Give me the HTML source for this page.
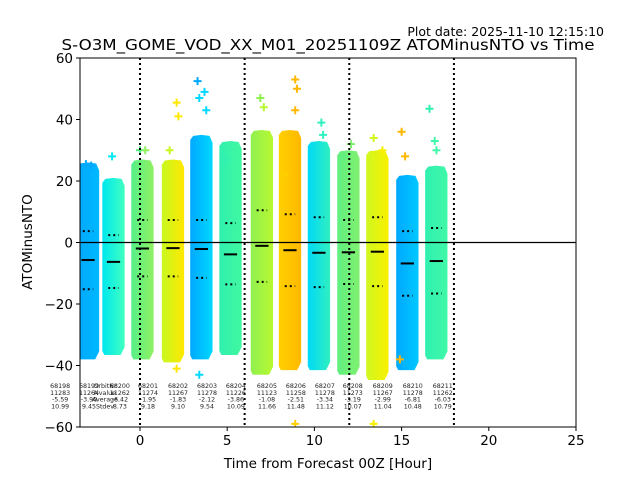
<!DOCTYPE html>
<html><head><meta charset="utf-8"><style>
body{margin:0;background:#fff}
svg text{font-family:"DejaVu Sans","Liberation Sans",sans-serif}
</style></head><body>
<svg id="chart" width="640" height="480" viewBox="0 0 640 480" xmlns="http://www.w3.org/2000/svg">
<rect width="640" height="480" fill="#fff"/>
<text x="604" y="36" font-size="12.5" text-anchor="end" fill="#000">Plot date: 2025-11-10 12:15:10</text>
<text x="328" y="50" font-size="15.5" text-anchor="middle" textLength="533" lengthAdjust="spacingAndGlyphs">S-O3M_GOME_VOD_XX_M01_20251109Z ATOMinusNTO vs Time</text>
<defs id="grads"></defs>
<g id="plot"></g>
<text x="328" y="468" font-size="13.5" text-anchor="middle">Time from Forecast 00Z [Hour]</text>
<text x="32" y="242" font-size="13.5" text-anchor="middle" transform="rotate(-90 32 242)">ATOMinusNTO</text>
</svg>
<script>
const colTime=[-2.98,-1.52,0.14,1.89,3.52,5.19,6.99,8.6,10.26,11.95,13.61,15.33,16.99];
const colTop=[26,21,27,27,35,33,36.6,36.6,33,30,30,22,25];
const colBottom=[-38,-36.6,-38,-39,-38,-36.6,-43,-41.5,-41.5,-43,-44.7,-41.5,-38];
const colMean=[-5.7,-6.3,-1.95,-1.83,-2.12,-3.86,-1.08,-2.51,-3.34,-3.19,-2.99,-6.81,-6.03];
const colUpper=[3.7,2.4,7.3,7.3,7.3,6.3,10.5,9.2,8.2,7.3,8.2,3.7,4.7];
const colLower=[-15.2,-14.8,-11,-11,-11.5,-13.6,-12.8,-14.2,-14.5,-13.5,-14.2,-17.3,-16.6];
const colLeft=['#00a8ff','#00e8f0','#55f08a','#c8f820','#00a8ff','#30f0b0','#90f050','#ffd000','#00d8f8','#60f080','#d0f820','#00a8ff','#30f0b0'];
const colRight=['#00b8ff','#40ffc0','#90f060','#ffe800','#00d8ff','#40f8a0','#b8f830','#ffb800','#30f0c0','#80f070','#f8f000','#00c8ff','#40f8a8'];
const outX=[-3.1,-2.8,-1.6,0.0,0.3,1.7,2.1,2.2,3.3,3.4,3.7,3.8,4.9,6.9,7.1,8.3,8.9,9.0,8.9,10.4,10.5,11.7,12.1,13.4,13.9,15.0,15.2,16.6,16.9,17.0,2.1,3.4,13.4,14.9,8.9];
const outY=[25.5,25,28,30,30,30,45.5,41,52.5,47,49,43,27,47,44,22,53,50,43,39,35,28,32,34,30,36,28,43.5,33,30,-41,-43,-59,-38,-59];
const outC=['#00a8ff','#00a8ff','#00e8f0','#55f08a','#90f060','#c8f820','#ffe800','#ffe800','#00a8ff','#00d8ff','#00d8ff','#00d8ff','#30f0b0','#90f050','#b8f830','#ffd000','#ffb800','#ffb800','#ffb800','#30f0c0','#30f0c0','#60f080','#80f070','#d0f820','#f8f000','#ffb800','#ffb800','#30f0b0','#40f8a8','#40f8a8','#ffe800','#00d8ff','#f8f000','#ffb800','#ffd000'];
const orbitNr=['68198','68199','68200','68201','68202','68203','68204','68205','68206','68207','68208','68209','68210','68211'];
const orbitN=['11283','11264','11262','11274','11267','11278','11226','11123','11258','11278','11273','11267','11278','11262'];
const orbitAvg=['-5.59','-3.90','-6.42','-1.95','-1.83','-2.12','-3.86','-1.08','-2.51','-3.34','-3.19','-2.99','-6.81','-6.03'];
const orbitStd=['10.99','9.45','8.73','9.18','9.10','9.54','10.09','11.66','11.48','11.12','10.07','11.04','10.48','10.79'];
const labelTime=[-4.58,-2.92,-1.15,0.46,2.18,3.84,5.5,7.28,8.94,10.6,12.2,13.92,15.64,17.36];
const xTicks=[0,5,10,15,20,25];
const yTicks=[-60,-40,-20,0,20,40,60];
const vLines=[0,6,12,18];

const X0=80,X1=576,Y0=58,Y1=427,XMIN=-3.44,XMAX=25,YMIN=-60,YMAX=60;
const xs=t=>X0+(t-XMIN)/(XMAX-XMIN)*(X1-X0);
const ys=v=>Y1-(v-YMIN)/(YMAX-YMIN)*(Y1-Y0);
const NS='http://www.w3.org/2000/svg';
const plot=document.getElementById('plot'),defs=document.getElementById('grads');
function mk(tag,attrs,parent){const e=document.createElementNS(NS,tag);for(const k in attrs)e.setAttribute(k,attrs[k]);(parent||plot).appendChild(e);return e;}
const clip=mk('clipPath',{id:'pc'},defs);mk('rect',{x:X0,y:Y0,width:X1-X0,height:Y1-Y0},clip);
const g=mk('g',{'clip-path':'url(#pc)'});


const HW=0.64;
colTime.forEach((t,i)=>{
  const lg=mk('linearGradient',{id:'g'+i,x1:0,x2:1,y1:0,y2:0},defs);
  mk('stop',{offset:0,'stop-color':colLeft[i]},lg);mk('stop',{offset:1,'stop-color':colRight[i]},lg);
  const l=xs(t-HW),r=xs(t+HW),tp=ys(colTop[i]),bt=ys(colBottom[i]);
  const pts=[[l,bt-4],[l+2,bt],[r-4,bt],[r,bt-8],[r,tp+8],[r-3,tp+1],[(l+r)/2,tp],[l+3,tp+1],[l,tp+5]].map(p=>p.join(',')).join(' ');
  const p=mk('polygon',{points:pts,fill:'url(#g'+i+')'},g);
  
  
  const m=mk('line',{x1:xs(t-0.38),x2:xs(t+0.38),y1:ys(colMean[i]),y2:ys(colMean[i]),stroke:'#000','stroke-width':2},g);
  
  
  [colUpper[i],colLower[i]].forEach(v=>{
    const d=mk('line',{x1:xs(t-0.3),x2:xs(t+0.3),y1:ys(v),y2:ys(v),stroke:'#000','stroke-width':2,'stroke-dasharray':'2,3'},g);
    
    
  });
});
outX.forEach((t,i)=>{
  const cx=xs(t),cy=ys(outY[i]);
  const o=mk('path',{d:`M${cx-4},${cy}H${cx+4}M${cx},${cy-4}V${cy+4}`,stroke:outC[i],'stroke-width':2},g);
  
  
});
const z=mk('line',{x1:X0,x2:X1,y1:ys(0),y2:ys(0),stroke:'#000','stroke-width':1.2},g);


vLines.forEach(t=>{
  const v=mk('line',{x1:xs(t),x2:xs(t),y1:Y0,y2:Y1,stroke:'#000','stroke-width':2,'stroke-dasharray':'2,3'},g);
  
  
});
const lab=mk('g',{'font-size':6.3,'text-anchor':'middle',fill:'#222'});


const hdr=['OrbitNr','Nvalue','Average','Stdev'];
hdr.forEach((h,r)=>{const e=mk('text',{x:105,y:388+r*6.8},lab);e.textContent=h;});
orbitNr.forEach((o,i)=>{
  [o,orbitN[i],orbitAvg[i],orbitStd[i]].forEach((s,r)=>{
    const e=mk('text',{x:xs(labelTime[i]),y:388+r*6.8},lab);e.textContent=s;
    
    
  });
});
const ax=mk('rect',{x:X0,y:Y0,width:X1-X0,height:Y1-Y0,fill:'none',stroke:'#000','stroke-width':1});


xTicks.forEach(t=>{
  mk('line',{x1:xs(t),x2:xs(t),y1:Y1,y2:Y1+4,stroke:'#000'});
  const e=mk('text',{x:xs(t),y:Y1+18,'font-size':13.5,'text-anchor':'middle'});e.textContent=t;
  
  
});
yTicks.forEach(v=>{
  mk('line',{x1:X0-4,x2:X0,y1:ys(v),y2:ys(v),stroke:'#000'});
  const e=mk('text',{x:X0-7,y:ys(v)+5,'font-size':13.5,'text-anchor':'end'});e.textContent=v<0?'\u2212'+(-v):v;
  
  
});
</script>
</body></html>
